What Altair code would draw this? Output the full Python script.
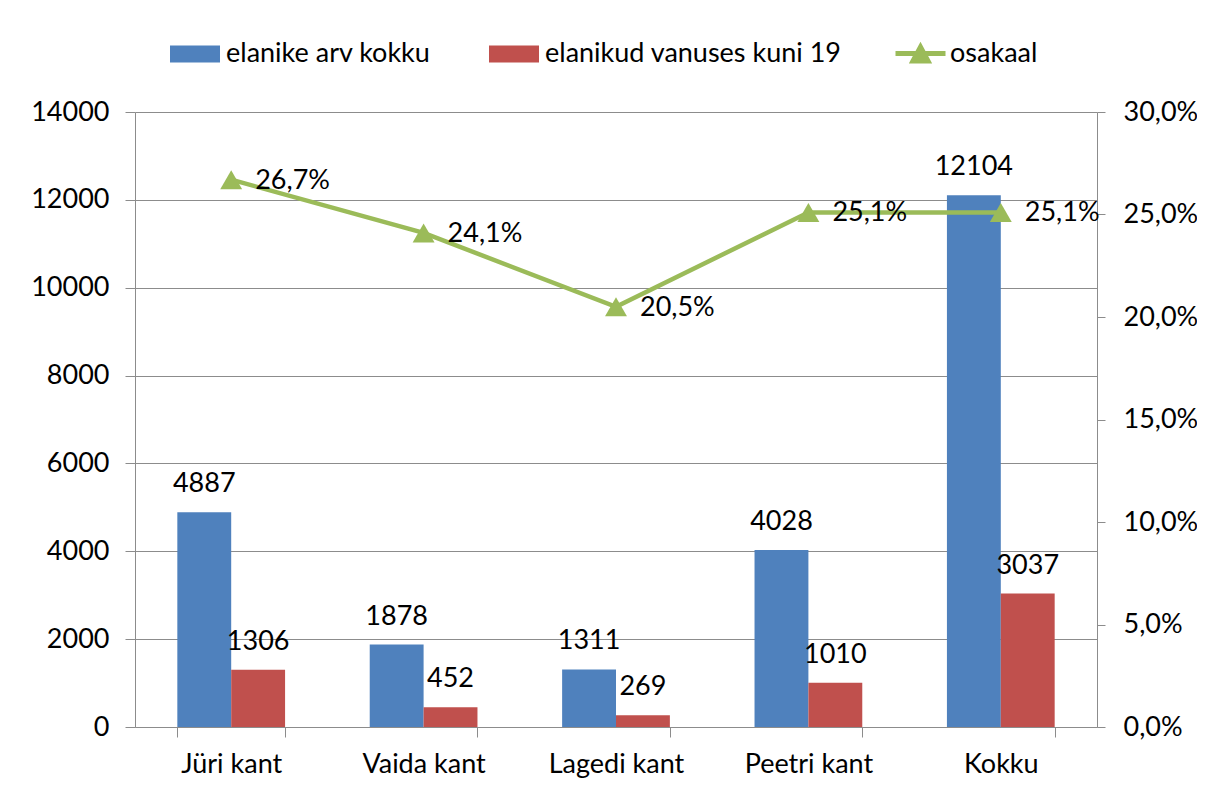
import altair as alt
import pandas as pd

categories = ["Jüri kant", "Vaida kant", "Lagedi kant", "Peetri kant", "Kokku"]
total = [4887, 1878, 1311, 4028, 12104]
youth = [1306, 452, 269, 1010, 3037]
share = [0.267, 0.241, 0.205, 0.251, 0.251]
series_names = ["elanike arv kokku", "elanikud vanuses kuni 19"]
line_name = "osakaal"
y_ticks = [0, 2000, 4000, 6000, 8000, 10000, 12000, 14000]
pct_ticks = [0.0, 0.05, 0.1, 0.15, 0.2, 0.25, 0.3]

BLUE = "#4F81BD"
RED = "#C0504D"
GREEN = "#9BBB59"
GRAY = "#8C8C8C"
FONT = "Lato"

bars_df = pd.DataFrame({
    "cat": categories * 2,
    "series": [s for s in series_names for _ in categories],
    "value": total + youth,
})
line_df = pd.DataFrame({"cat": categories, "share": share, "series": [line_name] * len(categories)})

x_enc = alt.X(
    "cat:N", sort=categories, title=None,
    scale=alt.Scale(paddingInner=0.44, paddingOuter=0.22),
    axis=alt.Axis(labelAngle=0, tickBand="extent", tickSize=10, labelPadding=14,
                  domainColor=GRAY, tickColor=GRAY, labelFontSize=27, labelColor="black",
                  grid=False),
)
xoff = alt.XOffset("series:N", sort=series_names, scale=alt.Scale(paddingInner=0, paddingOuter=0))
y_left = alt.Y(
    "value:Q", scale=alt.Scale(domain=[0, 14000], nice=False),
    axis=alt.Axis(values=y_ticks, title=None, grid=True, gridColor=GRAY, tickSize=10,
                  labelPadding=16, domainColor=GRAY, tickColor=GRAY, labelFontSize=27,
                  labelColor="black", format="d"),
)
y_right = alt.Y(
    "share:Q", scale=alt.Scale(domain=[0, 0.3], nice=False),
    axis=alt.Axis(orient="right", values=pct_ticks, title=None, grid=False, tickSize=8,
                  labelPadding=18, domainColor=GRAY, tickColor=GRAY, labelFontSize=27,
                  labelColor="black",
                  labelExpr="replace(format(datum.value, '.1%'), '.', ',')"),
)

RECT_SYMBOL = "M-1,-0.34H1V0.34H-1Z"
LINE_SYMBOL = "M-1,0H1M-0.3,0.3L0,-0.26L0.3,0.3Z"

bars = alt.Chart(bars_df).mark_bar().encode(
    x=x_enc, xOffset=xoff, y=y_left,
    color=alt.Color("series:N", scale=alt.Scale(domain=series_names, range=[BLUE, RED]),
                    legend=alt.Legend(orient="none", legendX=35, legendY=-83,
                                      direction="horizontal", title=None,
                                      symbolType=RECT_SYMBOL, symbolSize=2500,
                                      symbolStrokeWidth=0, labelFontSize=27,
                                      labelColor="black", labelOffset=6, labelLimit=0,
                                      columnPadding=58, padding=0)),
)
bar_text = alt.Chart(bars_df).mark_text(dy=-20, baseline="alphabetic", fontSize=27,
                                        color="black").encode(
    x=x_enc, xOffset=xoff, y=y_left, text=alt.Text("value:Q", format="d"),
)
left = alt.layer(bars, bar_text)

line = alt.Chart(line_df).mark_line(strokeWidth=4.5).encode(
    x=x_enc, y=y_right,
    stroke=alt.Stroke("series:N", scale=alt.Scale(domain=[line_name], range=[GREEN]),
                      legend=alt.Legend(orient="none", legendX=758, legendY=-86, title=None,
                                        symbolType=LINE_SYMBOL, symbolSize=2500,
                                        symbolStrokeWidth=5, symbolFillColor=GREEN,
                                        symbolStrokeColor=GREEN,
                                        labelFontSize=27, labelColor="black", labelLimit=0,
                                        labelOffset=2, padding=0)),
)
pts = alt.Chart(line_df).mark_point(shape="triangle-up", filled=True, size=480,
                                    color=GREEN, opacity=1).encode(x=x_enc, y=y_right)
line_text = alt.Chart(line_df).transform_calculate(
    lbl="replace(format(datum.share, '.1%'), '.', ',')"
).mark_text(align="left", baseline="alphabetic", dx=24, dy=9, fontSize=27,
            color="black").encode(x=x_enc, y=y_right, text="lbl:N")
right = alt.layer(line, pts, line_text)

chart = alt.layer(left, right).resolve_scale(y="independent").properties(
    width=962, height=615,
    autosize=alt.AutoSizeParams(type="none"),
    padding={"left": 127, "top": 104, "right": 100, "bottom": 60},
).configure(font=FONT).configure_view(strokeWidth=0)

chart.save("out.html", embed_options={"renderer": "svg", "actions": False})
